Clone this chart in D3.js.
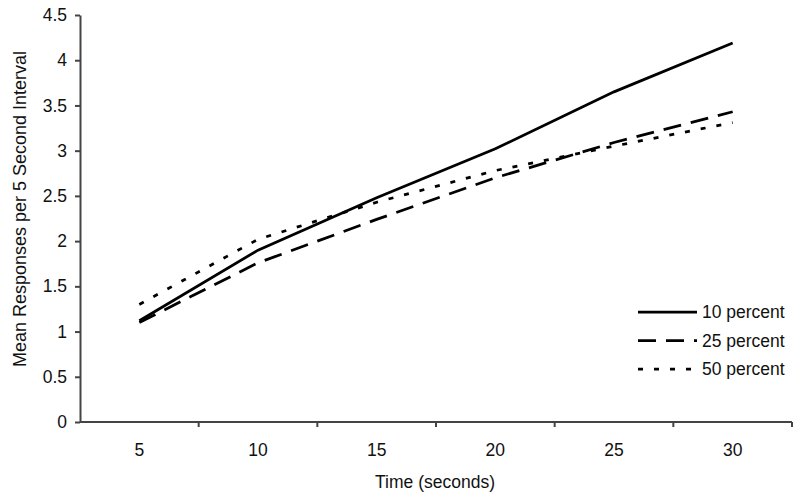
<!DOCTYPE html>
<html>
<head>
<meta charset="utf-8">
<script src="https://cdn.jsdelivr.net/npm/d3@7"></script>
<style>
    body { margin: 0; background: #fff; }
    text { font-family: "Liberation Sans", Arial, sans-serif; fill: #111; }
</style>
</head>
<body>
<div id="chart"></div>
<script>
// Data
const times = ['5', '10', '15', '20', '25', '30'];
const yTicks = [0, 0.5, 1, 1.5, 2, 2.5, 3, 3.5, 4, 4.5];
const seriesNames = ['10 percent', '25 percent', '50 percent'];
const tenPercent = [1.12, 1.90, 2.48, 3.02, 3.65, 4.19];
const twentyFivePercent = [1.10, 1.76, 2.24, 2.70, 3.09, 3.43];
const fiftyPercent = [1.30, 2.02, 2.43, 2.78, 3.05, 3.31];

const series = [
    { name: seriesNames[0], values: tenPercent, dash: null },
    { name: seriesNames[1], values: twentyFivePercent, dash: '18,10' },
    { name: seriesNames[2], values: fiftyPercent, dash: '5,11' }
];

const config = {
    width: 800,
    height: 499,
    margin: { top: 15, right: 8, bottom: 77, left: 80 },
    axisColor: '#444',
    lineWidth: 2.75,
    fontSize: '17.5px'
};

const svg = d3.select('#chart')
    .append('svg')
    .attr('width', config.width)
    .attr('height', config.height);

const x = d3.scaleBand()
    .domain(times)
    .range([config.margin.left, config.width - config.margin.right]);

const y = d3.scaleLinear()
    .domain([0, 4.5])
    .range([config.height - config.margin.bottom, config.margin.top]);

// x axis: ticks sit between categories
const xAxisG = svg.append('g')
    .attr('transform', `translate(0,${y(0)})`);
xAxisG.append('line')
    .attr('x1', x.range()[0]).attr('x2', x.range()[1])
    .attr('stroke', config.axisColor).attr('stroke-width', 2);
xAxisG.selectAll('.xtick')
    .data(times)
    .enter()
    .append('line')
    .attr('x1', d => x(d) + x.bandwidth())
    .attr('x2', d => x(d) + x.bandwidth())
    .attr('y1', 0).attr('y2', 5)
    .attr('stroke', config.axisColor).attr('stroke-width', 2);
xAxisG.selectAll('.xlabel')
    .data(times)
    .enter()
    .append('text')
    .attr('x', d => x(d) + x.bandwidth() / 2)
    .attr('y', 34)
    .attr('text-anchor', 'middle')
    .style('font-size', config.fontSize)
    .text(d => d);

// y axis
const yAxis = d3.axisLeft(y)
    .tickValues(yTicks)
    .tickFormat(d => String(d))
    .tickSize(5)
    .tickSizeOuter(0)
    .tickPadding(8);
const yAxisG = svg.append('g')
    .attr('transform', `translate(${config.margin.left},0)`)
    .call(yAxis);
yAxisG.select('.domain').attr('stroke', config.axisColor).attr('stroke-width', 2);
yAxisG.selectAll('.tick line').attr('stroke', config.axisColor).attr('stroke-width', 2);
yAxisG.selectAll('.tick text')
    .style('font-size', config.fontSize)
    .style('font-family', '"Liberation Sans", Arial, sans-serif')
    .attr('fill', '#111');

// axis titles
svg.append('text')
    .attr('x', 435)
    .attr('y', 488)
    .attr('text-anchor', 'middle')
    .style('font-size', config.fontSize)
    .text('Time (seconds)');

svg.append('text')
    .attr('transform', 'translate(26,209) rotate(-90)')
    .attr('text-anchor', 'middle')
    .style('font-size', '18px')
    .text('Mean Responses per 5 Second Interval');

// lines
const line = d3.line()
    .x((d, i) => x(times[i]) + x.bandwidth() / 2)
    .y(d => y(d));

series.forEach(s => {
    svg.append('path')
        .datum(s.values)
        .attr('fill', 'none')
        .attr('stroke', '#000')
        .attr('stroke-width', config.lineWidth)
        .attr('stroke-dasharray', s.dash)
        .attr('d', line);
});

// legend
const legend = svg.append('g').attr('transform', 'translate(638,312)');
series.forEach((s, i) => {
    const row = legend.append('g').attr('transform', `translate(0,${i * 28.5})`);
    row.append('line')
        .attr('x1', 0).attr('x2', 59)
        .attr('stroke', '#000')
        .attr('stroke-width', config.lineWidth)
        .attr('stroke-dasharray', s.dash);
    row.append('text')
        .attr('x', 64)
        .attr('y', 6)
        .style('font-size', config.fontSize)
        .text(s.name);
});
</script>
</body>
</html>
